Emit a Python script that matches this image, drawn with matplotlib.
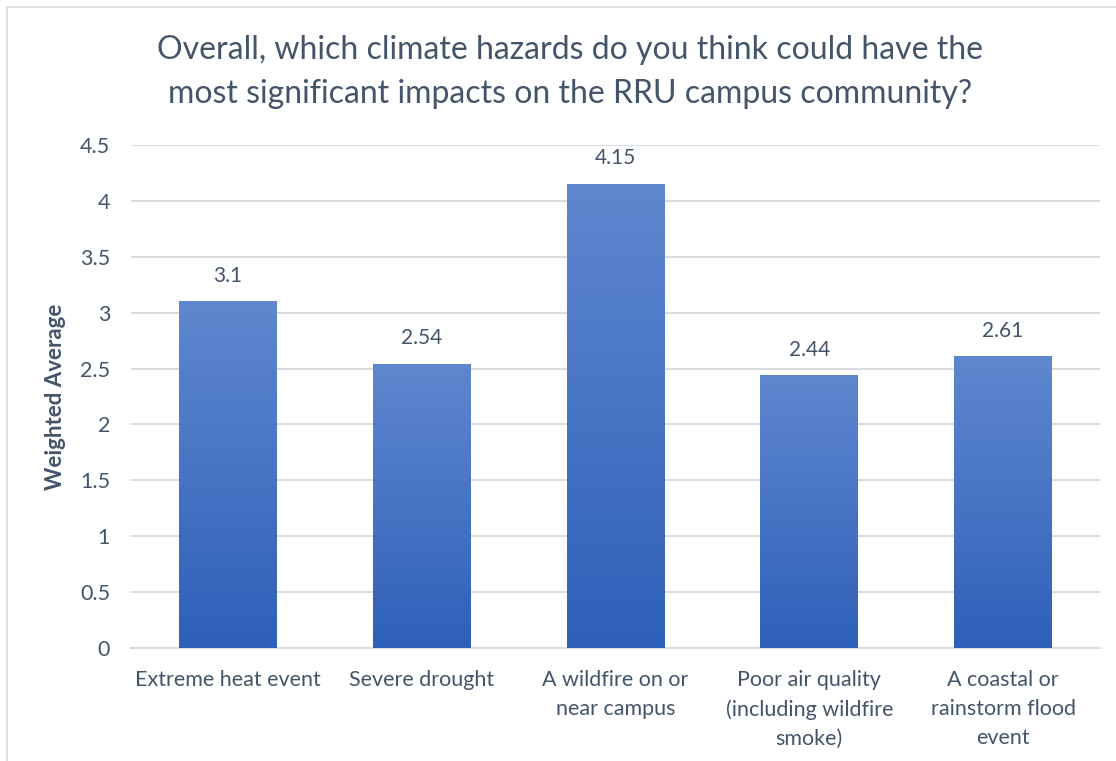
import numpy as np
import matplotlib
matplotlib.use("Agg")
import matplotlib.pyplot as plt
from matplotlib.colors import LinearSegmentedColormap
from matplotlib.patches import Rectangle

categories = ["Extreme heat event", "Severe drought", "A wildfire on or\nnear campus",
              "Poor air quality\n(including wildfire\nsmoke)", "A coastal or\nrainstorm flood\nevent"]
values = [3.1, 2.54, 4.15, 2.44, 2.61]
yticks = [0, 0.5, 1, 1.5, 2, 2.5, 3, 3.5, 4, 4.5]
ytick_labels = ["0", "0.5", "1", "1.5", "2", "2.5", "3", "3.5", "4", "4.5"]

plt.rcParams['font.family'] = ['Lato', 'DejaVu Sans']
text_color = "#44546A"
grid_color = "#D9DCE1"

W, H = 1116, 761
fig = plt.figure(figsize=(W / 100, H / 100), dpi=100)
# outer border
fig.patches.append(Rectangle((7 / W, -0.01), 1.02, 1 - 7 / H + 0.01, transform=fig.transFigure,
                             fill=False, edgecolor="#D9D9D9", linewidth=1.2))

ax = fig.add_axes([131 / W, 1 - 648 / H, (1100 - 131) / W, (648 - 145) / H])
x = np.arange(len(categories))
bars = ax.bar(x, values, width=0.505, color="none", edgecolor="none", zorder=3)

cmap = LinearSegmentedColormap.from_list("g", ["#2E60B9", "#5F87CF"])
grad = np.linspace(0, 1, 256).reshape(-1, 1)
for b in bars:
    x0, w, h = b.get_x(), b.get_width(), b.get_height()
    im = ax.imshow(grad, cmap=cmap, aspect="auto", origin="lower",
                   extent=[x0, x0 + w, 0, h], zorder=3)
    im.set_clip_path(b)

for xi, v in zip(x, values):
    ax.text(xi, v + 0.14, f"{v:g}", ha="center", va="bottom", fontsize=15, color=text_color, zorder=4)

ax.set_xlim(-0.5, len(categories) - 0.5)
ax.set_ylim(0, 4.5)
ax.set_yticks(yticks)
ax.set_yticklabels(ytick_labels)
ax.set_xticks(x)
ax.set_xticklabels(categories, linespacing=1.55)
ax.tick_params(axis="both", length=0, labelsize=15.5, colors=text_color)
ax.tick_params(axis="y", pad=15)
ax.tick_params(axis="x", pad=16)
ax.grid(axis="y", color=grid_color, linewidth=1.5, zorder=0)
ax.set_axisbelow(True)
for s in ["top", "right", "left"]:
    ax.spines[s].set_visible(False)
ax.spines["bottom"].set_color(grid_color)
ax.spines["bottom"].set_linewidth(1.5)
ax.set_ylabel("Weighted Average", fontsize=16, fontweight="bold", color=text_color, labelpad=10)

fig.text(570 / W, 1 - 72 / H,
         "Overall, which climate hazards do you think could have the\nmost significant impacts on the RRU campus community?",
         ha="center", va="center", fontsize=23, color=text_color, linespacing=1.55)

fig.savefig("out.png", dpi=100)
